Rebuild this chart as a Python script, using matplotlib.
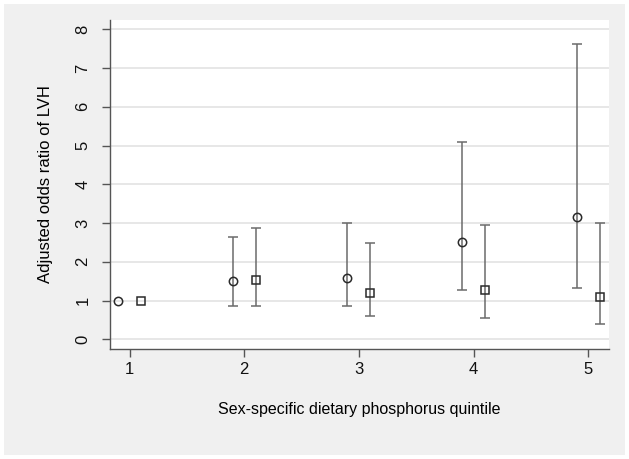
import numpy as np
import matplotlib
matplotlib.use("Agg")
import matplotlib.pyplot as plt
from matplotlib.patches import Rectangle

plt.rcParams['font.family'] = ['Liberation Sans', 'DejaVu Sans']

quintiles = [1, 2, 3, 4, 5]

# circles (left of each quintile)
or_circle = [1.00, 1.51, 1.59, 2.52, 3.16]
lo_circle = [np.nan, 0.85, 0.87, 1.26, 1.33]
hi_circle = [np.nan, 2.63, 2.99, 5.08, 7.61]

# squares (right of each quintile)
or_square = [1.00, 1.54, 1.20, 1.28, 1.08]
lo_square = [np.nan, 0.85, 0.60, 0.55, 0.39]
hi_square = [np.nan, 2.88, 2.48, 2.94, 2.99]

offset = 0.1
bar_col = "#6b6b6b"
mark_col = "#2a2a2a"

fig = plt.figure(figsize=(6.29, 4.59), dpi=100)
fig.patch.set_facecolor("white")
# grey panel behind the plot
fig.patches.append(Rectangle((4 / 629, 4 / 459), 621 / 629, 451 / 459,
                             transform=fig.transFigure, facecolor="#f0f0f0",
                             edgecolor="none", zorder=-10))

ax = fig.add_axes([110 / 629, 1 - 349 / 459, 499 / 629, 329 / 459])
ax.set_zorder(5)
ax.set_facecolor("white")

def draw(xs, ys, lo, hi, marker):
    xs = np.array(xs, dtype=float)
    ys = np.array(ys)
    lo = np.array(lo)
    hi = np.array(hi)
    ok = ~np.isnan(lo)
    ax.errorbar(xs[ok], ys[ok], yerr=[ys[ok] - lo[ok], hi[ok] - ys[ok]],
                fmt="none", ecolor=bar_col, elinewidth=1.1, capsize=3.5,
                capthick=1.1, zorder=2)
    ax.plot(xs, ys, linestyle="none", marker=marker, markersize=6,
            markerfacecolor="none", markeredgecolor=mark_col,
            markeredgewidth=1.1, zorder=3)

draw(np.array(quintiles) - offset, or_circle, lo_circle, hi_circle, "o")
draw(np.array(quintiles) + offset, or_square, lo_square, hi_square, "s")

ax.set_xlim(0.83, 5.18)
ax.set_ylim(-0.25, 8.24)
ax.set_xticks(quintiles)
ax.set_yticks(range(0, 9))
ax.yaxis.grid(True, color="#e3e3e3", linewidth=1.2)
ax.set_axisbelow(True)

for s in ["top", "right"]:
    ax.spines[s].set_visible(False)
for s in ["left", "bottom"]:
    ax.spines[s].set_color("#555555")
    ax.spines[s].set_linewidth(1.0)

ax.tick_params(axis="both", colors="#555555", length=6, width=1.0,
               labelsize=12, labelcolor="#111111")
ax.tick_params(axis="y", pad=8)
for lab in ax.get_yticklabels():
    lab.set_rotation(90)
    lab.set_va("center")

ax.set_ylabel("Adjusted odds ratio of LVH", fontsize=12, labelpad=16)
ax.set_xlabel("Sex-specific dietary phosphorus quintile", fontsize=11.5, labelpad=18)

fig.savefig("out.png", dpi=100)
